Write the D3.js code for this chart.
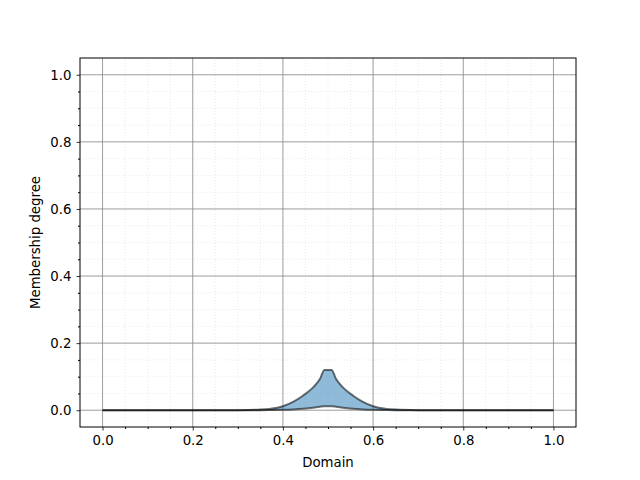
<!DOCTYPE html>
<html>
<head>
<meta charset="utf-8">
<script src="https://cdn.jsdelivr.net/npm/d3@7"></script>
<style>
  body { margin: 0; background: #fff; }
  text { font-family: "DejaVu Sans", sans-serif; }
</style>
</head>
<body>
<div id="chart"></div>
<script>
// membership values
var domainX = [0.0, 0.25, 0.30, 0.35, 0.37, 0.40, 0.4225, 0.445, 0.467, 0.482, 0.492, 0.508, 0.518, 0.533, 0.555, 0.5775, 0.60, 0.63, 0.65, 0.70, 0.75, 1.0];
var upperMf = [0.0, 0.0, 0.0003, 0.002, 0.004, 0.012, 0.025, 0.044, 0.068, 0.093, 0.12, 0.12, 0.093, 0.068, 0.044, 0.025, 0.012, 0.004, 0.002, 0.0003, 0.0, 0.0];
var lowerMf = [0.0, 0.0, 0.0, 0.0002, 0.0005, 0.0012, 0.0025, 0.0045, 0.0075, 0.0105, 0.012, 0.012, 0.0105, 0.0075, 0.0045, 0.0025, 0.0012, 0.0005, 0.0002, 0.0, 0.0, 0.0];
var majorTicks = [0.0, 0.2, 0.4, 0.6, 0.8, 1.0];
var minorTicks = d3.range(0, 21).map(function(i){ return i * 0.05; });

var width = 640, height = 480;
var margin = {left: 80, right: 64, top: 58, bottom: 53};

var svg = d3.select("#chart").append("svg")
  .attr("width", width).attr("height", height);

var x = d3.scaleLinear().domain([-0.05, 1.05]).range([margin.left, width - margin.right]);
var y = d3.scaleLinear().domain([-0.05, 1.05]).range([height - margin.bottom, margin.top]);

var g = svg.append("g");

// minor grid
g.selectAll(".minx").data(minorTicks).enter().append("line")
  .attr("x1", function(d){ return x(d); }).attr("x2", function(d){ return x(d); })
  .attr("y1", y.range()[0]).attr("y2", y.range()[1])
  .attr("stroke", "#e6e6e6").attr("stroke-width", 0.8).attr("stroke-dasharray", "1,2");
g.selectAll(".miny").data(minorTicks).enter().append("line")
  .attr("y1", function(d){ return y(d); }).attr("y2", function(d){ return y(d); })
  .attr("x1", x.range()[0]).attr("x2", x.range()[1])
  .attr("stroke", "#e6e6e6").attr("stroke-width", 0.8).attr("stroke-dasharray", "1,2");

// major grid
g.selectAll(".majx").data(majorTicks).enter().append("line")
  .attr("x1", function(d){ return x(d); }).attr("x2", function(d){ return x(d); })
  .attr("y1", y.range()[0]).attr("y2", y.range()[1])
  .attr("stroke", "#888").attr("stroke-width", 0.8);
g.selectAll(".majy").data(majorTicks).enter().append("line")
  .attr("y1", function(d){ return y(d); }).attr("y2", function(d){ return y(d); })
  .attr("x1", x.range()[0]).attr("x2", x.range()[1])
  .attr("stroke", "#888").attr("stroke-width", 0.8);

var pts = domainX.map(function(d, i){ return {x: d, up: upperMf[i], lo: lowerMf[i]}; });

var area = d3.area()
  .x(function(d){ return x(d.x); })
  .y0(function(d){ return y(d.lo); })
  .y1(function(d){ return y(d.up); })
  .curve(d3.curveMonotoneX);

svg.append("path").datum(pts).attr("d", area)
  .attr("fill", "#1f77b4").attr("fill-opacity", 0.5);

var lineUp = d3.line().x(function(d){ return x(d.x); }).y(function(d){ return y(d.up); }).curve(d3.curveMonotoneX);
var lineLo = d3.line().x(function(d){ return x(d.x); }).y(function(d){ return y(d.lo); }).curve(d3.curveMonotoneX);

svg.append("path").datum(pts).attr("d", lineUp)
  .attr("fill", "none").attr("stroke", "#000").attr("stroke-opacity", 0.55).attr("stroke-width", 2);
svg.append("path").datum(pts).attr("d", lineLo)
  .attr("fill", "none").attr("stroke", "#000").attr("stroke-opacity", 0.55).attr("stroke-width", 2);

// axes
var xAxis = d3.axisBottom(x).tickValues(majorTicks).tickFormat(d3.format(".1f")).tickSize(3.5).tickPadding(5);
var yAxis = d3.axisLeft(y).tickValues(majorTicks).tickFormat(d3.format(".1f")).tickSize(3.5).tickPadding(5);

var gx = svg.append("g").attr("transform", "translate(0," + y.range()[0] + ")").call(xAxis);
var gy = svg.append("g").attr("transform", "translate(" + x.range()[0] + ",0)").call(yAxis);

var minorOnly = minorTicks.filter(function(d){ return Math.round(d * 100) % 20 != 0; });
svg.append("g").attr("transform", "translate(0," + y.range()[0] + ")")
  .call(d3.axisBottom(x).tickValues(minorOnly).tickSize(2).tickFormat(""))
  .select(".domain").remove();
svg.append("g").attr("transform", "translate(" + x.range()[0] + ",0)")
  .call(d3.axisLeft(y).tickValues(minorOnly).tickSize(2).tickFormat(""))
  .select(".domain").remove();

[gx, gy].forEach(function(a){
  a.select(".domain").remove();
  a.selectAll("text").attr("font-size", "13.3px").attr("font-family", "DejaVu Sans").attr("fill", "#000");
  a.selectAll("line").attr("stroke", "#000").attr("stroke-width", 0.8);
});

// frame
svg.append("rect")
  .attr("x", x.range()[0]).attr("y", y.range()[1])
  .attr("width", x.range()[1] - x.range()[0]).attr("height", y.range()[0] - y.range()[1])
  .attr("fill", "none").attr("stroke", "#000").attr("stroke-width", 1);

svg.append("text").attr("x", (x.range()[0] + x.range()[1]) / 2).attr("y", 467)
  .attr("text-anchor", "middle").attr("font-size", "13.3px").text("Domain");
svg.append("text").attr("transform", "translate(40," + (y.range()[0] + y.range()[1]) / 2 + ") rotate(-90)")
  .attr("text-anchor", "middle").attr("font-size", "13.3px").text("Membership degree");
</script>
</body>
</html>
